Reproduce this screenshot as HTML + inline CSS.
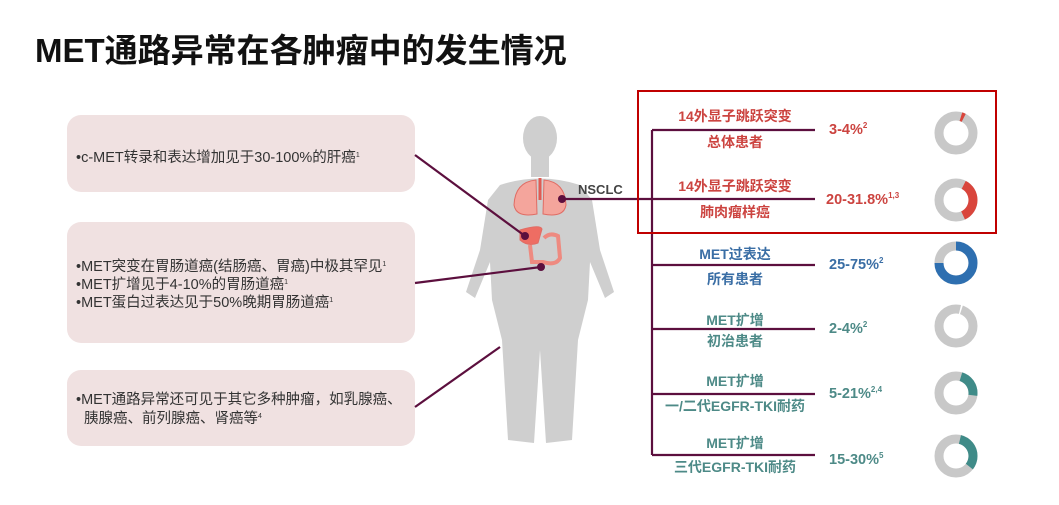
<!DOCTYPE html>
<html><head><meta charset="utf-8"><style>
body{margin:0;background:#fff;}
svg{display:block;font-family:"Liberation Sans","Noto Sans CJK SC",sans-serif;}
</style></head><body>
<svg width="1059" height="505" viewBox="0 0 1059 505">
<text x="35" y="62" font-size="33" font-weight="bold" fill="#111">MET通路异常在各肿瘤中的发生情况</text>

<g fill="#f0e1e1">
<rect x="67" y="115" width="348" height="77" rx="14"/>
<rect x="67" y="222" width="348" height="121" rx="14"/>
<rect x="67" y="370" width="348" height="76" rx="14"/>
</g>
<g font-size="14.5" fill="#333">
<text x="76" y="162">•c-MET转录和表达增加见于30-100%的肝癌<tspan font-size="7" dy="-5">1</tspan></text>
<text x="76" y="271">•MET突变在胃肠道癌(结肠癌、胃癌)中极其罕见<tspan font-size="7" dy="-5">1</tspan></text>
<text x="76" y="289">•MET扩增见于4-10%的胃肠道癌<tspan font-size="7" dy="-5">1</tspan></text>
<text x="76" y="307">•MET蛋白过表达见于50%晚期胃肠道癌<tspan font-size="7" dy="-5">1</tspan></text>
<text x="76" y="404">•MET通路异常还可见于其它多种肿瘤，如乳腺癌、</text>
<text x="84" y="423">胰腺癌、前列腺癌、肾癌等<tspan font-size="7" dy="-5">4</tspan></text>
</g>

<!-- body -->
<g fill="#cfcfcf">
<ellipse cx="540" cy="138" rx="17" ry="22"/>
<rect x="531" y="155" width="18" height="22"/>
<path d="M500 185 Q540 172 580 185 L592 200 L600 250 L614 292 L605 298 L590 262 L588 300 L578 340 L572 440 L546 443 L540 350 L534 443 L508 440 L502 340 L492 300 L490 262 L475 298 L466 292 L480 250 L488 200 Z"/>
</g>
<!-- organs -->
<g fill="#f4a59c" stroke="#e06c64" stroke-width="1">
<path d="M536 180 Q515 182 514 205 Q516 218 537 214 Z"/>
<path d="M544 180 Q565 182 566 205 Q564 218 543 214 Z"/>
<path d="M540 178 L540 200" stroke="#e05a52" stroke-width="3"/>
<path d="M520 230 Q540 224 542 229 L538 243 Q528 247 520 240 Z" fill="#ee6d63"/>
<path d="M530 245 L532 262 L543 262 Q556 266 560 258 L558 236 Q550 232 544 238" fill="none" stroke="#ee8a80" stroke-width="4"/>
</g>

<!-- connectors -->
<g stroke="#5c0f3e" stroke-width="2.2" fill="none">
<line x1="415" y1="155" x2="525" y2="236"/>
<line x1="415" y1="283" x2="541" y2="267"/>
<line x1="415" y1="407" x2="500" y2="347"/>
<line x1="562" y1="199" x2="652" y2="199"/>
<line x1="652" y1="130" x2="652" y2="455"/>
<line x1="652" y1="130" x2="815" y2="130"/>
<line x1="652" y1="199" x2="815" y2="199"/>
<line x1="652" y1="265" x2="815" y2="265"/>
<line x1="652" y1="329" x2="815" y2="329"/>
<line x1="652" y1="394" x2="815" y2="394"/>
<line x1="652" y1="455" x2="815" y2="455"/>
</g>
<g fill="#5c0f3e">
<circle cx="525" cy="236" r="4"/><circle cx="541" cy="267" r="4"/><circle cx="562" cy="199" r="4"/>
</g>
<text x="578" y="194" font-size="13" font-weight="bold" fill="#444">NSCLC</text>

<rect x="638" y="91" width="358" height="142" fill="none" stroke="#c00000" stroke-width="2"/>

<g font-size="14" font-weight="bold" text-anchor="middle">
<g fill="#cc4440">
<text x="735" y="121">14外显子跳跃突变</text><text x="735" y="147">总体患者</text>
<text x="735" y="191">14外显子跳跃突变</text><text x="735" y="217">肺肉瘤样癌</text>
</g>
<g fill="#3a6ea5"><text x="735" y="259">MET过表达</text><text x="735" y="284">所有患者</text></g>
<g fill="#4d8a87">
<text x="735" y="325">MET扩增</text><text x="735" y="346">初治患者</text>
<text x="735" y="386">MET扩增</text><text x="735" y="411">一/二代EGFR-TKI耐药</text>
<text x="735" y="448">MET扩增</text><text x="735" y="472">三代EGFR-TKI耐药</text>
</g>
</g>
<g font-size="14.5" font-weight="bold">
<text x="829" y="134" fill="#cc4440">3-4%<tspan font-size="8" dy="-6">2</tspan></text>
<text x="826" y="204" fill="#cc4440">20-31.8%<tspan font-size="8" dy="-6">1,3</tspan></text>
<text x="829" y="269" fill="#3a6ea5">25-75%<tspan font-size="8" dy="-6">2</tspan></text>
<text x="829" y="333" fill="#4d8a87">2-4%<tspan font-size="8" dy="-6">2</tspan></text>
<text x="829" y="398" fill="#4d8a87">5-21%<tspan font-size="8" dy="-6">2,4</tspan></text>
<text x="829" y="464" fill="#4d8a87">15-30%<tspan font-size="8" dy="-6">5</tspan></text>
</g>

<g fill="none" stroke-width="9">
<g transform="translate(956,133) rotate(-90)"><circle r="17" stroke="#c8c8c8"/><circle r="17" stroke="#d9453c" stroke-dasharray="3 104" stroke-dashoffset="-5"/></g>
<g transform="translate(956,200) rotate(-90)"><circle r="17" stroke="#c8c8c8"/><circle r="17" stroke="#d9453c" stroke-dasharray="38 69" stroke-dashoffset="-8"/></g>
<g transform="translate(956,263) rotate(-90)"><circle r="17" stroke="#c8c8c8"/><circle r="17" stroke="#2e6fb0" stroke-dasharray="80 27"/></g>
<g transform="translate(956,326) rotate(-90)"><circle r="17" stroke="#c8c8c8"/><circle r="17" stroke="#fff" stroke-width="10" stroke-dasharray="1.5 105" stroke-dashoffset="-4"/></g>
<g transform="translate(956,393) rotate(-90)"><circle r="17" stroke="#c8c8c8"/><circle r="17" stroke="#3f8b88" stroke-dasharray="24 83" stroke-dashoffset="-5"/></g>
<g transform="translate(956,456) rotate(-90)"><circle r="17" stroke="#c8c8c8"/><circle r="17" stroke="#3f8b88" stroke-dasharray="34 73" stroke-dashoffset="-4"/></g>
</g>
</svg>
</body></html>
